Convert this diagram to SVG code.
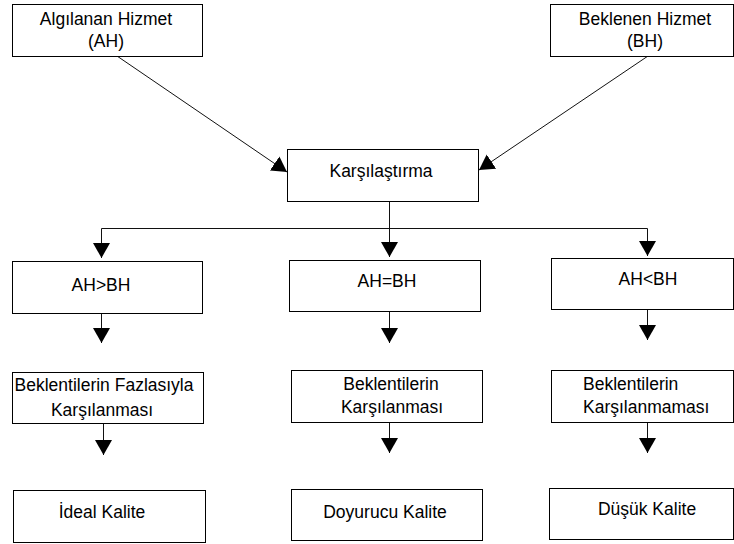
<svg xmlns="http://www.w3.org/2000/svg" width="734" height="544" viewBox="0 0 734 544">
<style>
.box{fill:#fff;stroke:#000;stroke-width:1}
.t{font-family:"Liberation Sans",Arial,sans-serif;font-size:17.5px;fill:#000;text-anchor:middle}
.s{text-anchor:start}
.c{fill:none;stroke:#111;stroke-width:1}
</style>
<defs>
<marker id="ah" markerUnits="userSpaceOnUse" markerWidth="16" markerHeight="18" viewBox="0 -9 16 18" refX="15" refY="0" orient="auto">
<path d="M0,-8.5 L15,0 L0,8.5 Z" fill="#000"/>
</marker>
</defs>
<rect width="734" height="544" fill="#fff"/>
<g id="connectors">
<line class="c" x1="117" y1="56" x2="287" y2="172" marker-end="url(#ah)"/>
<line class="c" x1="648" y1="56" x2="479" y2="170" marker-end="url(#ah)"/>
<line class="c" x1="389.5" y1="201" x2="389.5" y2="257" marker-end="url(#ah)"/>
<polyline class="c" points="101.5,258 101.5,228.5 647.5,228.5 647.5,256"/>
<line class="c" x1="101.5" y1="240" x2="101.5" y2="258" marker-end="url(#ah)"/>
<line class="c" x1="647.5" y1="240" x2="647.5" y2="256" marker-end="url(#ah)"/>
<line class="c" x1="101.5" y1="313" x2="101.5" y2="343" marker-end="url(#ah)"/>
<line class="c" x1="389.5" y1="311" x2="389.5" y2="343" marker-end="url(#ah)"/>
<line class="c" x1="647.5" y1="309" x2="647.5" y2="340" marker-end="url(#ah)"/>
<line class="c" x1="103.5" y1="423" x2="103.5" y2="455" marker-end="url(#ah)"/>
<line class="c" x1="389.5" y1="422" x2="389.5" y2="453" marker-end="url(#ah)"/>
<line class="c" x1="647.5" y1="422" x2="647.5" y2="453" marker-end="url(#ah)"/>
</g>
<g id="ah-node">
<rect class="box" x="12.5" y="4.5" width="190" height="52"/>
<text class="t" x="106" y="25">Algılanan Hizmet</text>
<text class="t" x="106" y="47">(AH)</text>
</g>
<g id="bh-node">
<rect class="box" x="550.5" y="4.5" width="183" height="52"/>
<text class="t" x="645" y="25">Beklenen Hizmet</text>
<text class="t" x="645" y="47">(BH)</text>
</g>
<g id="karsilastirma">
<rect class="box" x="287.5" y="149.5" width="191" height="52"/>
<text class="t" x="381" y="177">Karşılaştırma</text>
</g>
<g id="ah-gt-bh">
<rect class="box" x="12.5" y="261.5" width="190" height="52"/>
<text class="t" x="101" y="291">AH&gt;BH</text>
</g>
<g id="ah-eq-bh">
<rect class="box" x="289.5" y="260.5" width="191" height="51"/>
<text class="t" x="387" y="287">AH=BH</text>
</g>
<g id="ah-lt-bh">
<rect class="box" x="551.5" y="258.5" width="182" height="51"/>
<text class="t" x="648" y="285">AH&lt;BH</text>
</g>
<g id="fazlasiyla">
<rect class="box" x="12.5" y="372.5" width="191" height="51"/>
<text class="t" x="104" y="391">Beklentilerin Fazlasıyla</text>
<text class="t" x="102" y="416">Karşılanması</text>
</g>
<g id="karsilanmasi">
<rect class="box" x="291.5" y="370.5" width="191" height="52"/>
<text class="t" x="391" y="390">Beklentilerin</text>
<text class="t" x="392" y="413">Karşılanması</text>
</g>
<g id="karsilanmamasi">
<rect class="box" x="551.5" y="370.5" width="182" height="52"/>
<text class="t s" x="583" y="390">Beklentilerin</text>
<text class="t s" x="583" y="413">Karşılanmaması</text>
</g>
<g id="ideal">
<rect class="box" x="13.5" y="490.5" width="192" height="52"/>
<text class="t" x="102" y="518">İdeal Kalite</text>
</g>
<g id="doyurucu">
<rect class="box" x="291.5" y="489.5" width="191" height="51"/>
<text class="t" x="385" y="518">Doyurucu Kalite</text>
</g>
<g id="dusuk">
<rect class="box" x="549.5" y="488.5" width="184" height="51"/>
<text class="t" x="647" y="515">Düşük Kalite</text>
</g>
</svg>
